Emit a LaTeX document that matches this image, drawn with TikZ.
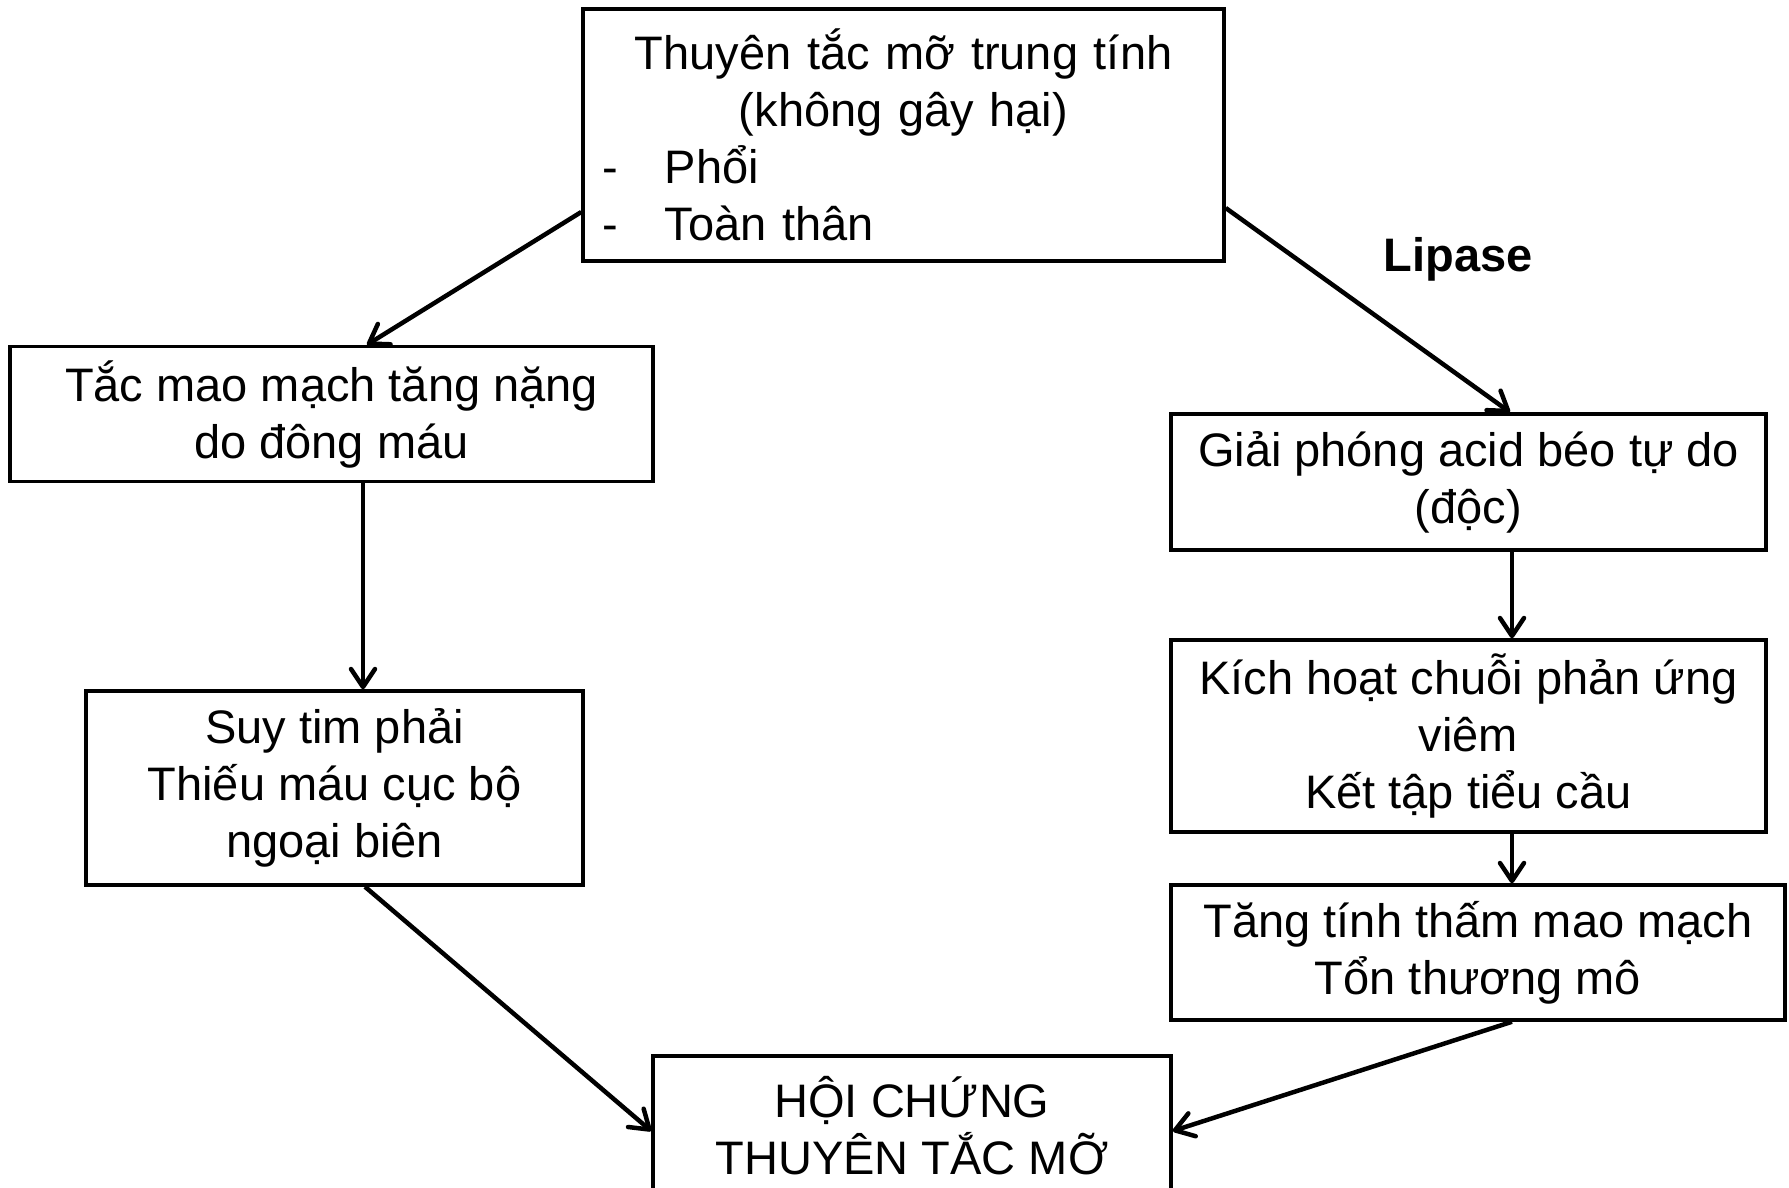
\documentclass[tikz,border=0pt]{standalone}
\usepackage{fontspec}
\setmainfont{Liberation Sans}
\usetikzlibrary{arrows.meta,calc}
\begin{document}
\begin{tikzpicture}[x=1pt,y=-1pt,
  box/.style={draw=black,line width=3.5pt,rectangle,inner sep=0pt,align=center,
    font=\fontsize{47}{57}\selectfont},
  arr/.style={line width=4.5pt,-{Straight Barb[length=18pt,width=24pt,line width=4.5pt,round]}}]
\useasboundingbox (0,0) rectangle (1789,1187);
\clip (0,0) rectangle (1789,1187);
\fill[white] (0,0) rectangle (1789,1187);
\node[box,minimum width=641pt,minimum height=252pt,text width=641pt,align=left] (top) at (903.5,135)
  {{\centering Thuyên tắc mỡ trung tính\\(không gây hại)\par}
   \hspace*{19pt}-\hspace*{47pt}Phổi\\
   \hspace*{19pt}-\hspace*{47pt}Toàn thân};
\node[box,minimum width=643pt,minimum height=135pt] (L1) at (331.5,414)
  {Tắc mao mạch tăng nặng\\do đông máu};
\node[box,minimum width=497pt,minimum height=194pt] (L2) at (334.5,788)
  {Suy tim phải\\Thiếu máu cục bộ\\ngoại biên};
\node[box,minimum width=595pt,minimum height=136pt] (R1) at (1468.5,482)
  {Giải phóng acid béo tự do\\(độc)};
\node[box,minimum width=595pt,minimum height=192pt] (R2) at (1468.5,736)
  {Kích hoạt chuỗi phản ứng\\viêm\\Kết tập tiểu cầu};
\node[box,minimum width=614pt,minimum height=135pt] (R3) at (1478,952.5)
  {Tăng tính thấm mao mạch\\Tổn thương mô};
\node[box,minimum width=518pt,minimum height=139pt] (B) at (912,1125.5)
  {HỘI CHỨNG\\THUYÊN TẮC MỠ};
\node[font=\fontsize{47}{57}\selectfont\bfseries] (lip) at (1458,259) {Lipase};
\draw[arr] ([yshift=-77pt]top.west) -- ([xshift=35.5pt]L1.north);
\draw[arr] ([yshift=-73pt]top.east) -- ([xshift=41.5pt]R1.north);
\draw[arr] ([xshift=31.5pt]L1.south) -- ([xshift=31.5pt]L1.south |- L2.north);
\draw[arr] ([xshift=30.5pt]L2.south) -- ([yshift=-5.5pt]B.west);
\draw[arr] ([xshift=43.5pt]R1.south) -- ([xshift=43.5pt]R1.south |- R2.north);
\draw[arr] ([xshift=43.5pt]R2.south) -- ([xshift=43.5pt]R2.south |- R3.north);
\draw[arr] ([xshift=34pt]R3.south) -- ([yshift=-5.5pt]B.east);
\end{tikzpicture}
\end{document}
